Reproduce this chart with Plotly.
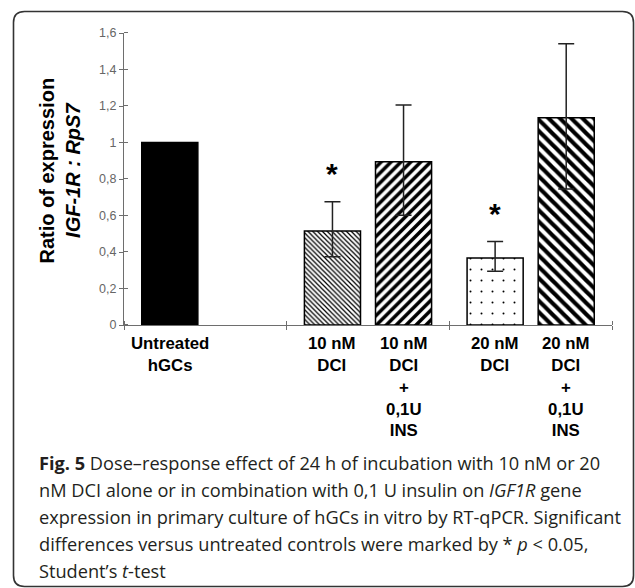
import plotly.graph_objects as go

# ---------------- data ----------------
labels = ["Untreated<br>hGCs", "10 nM<br>DCI", "10 nM<br>DCI<br>+<br>0,1U<br>INS",
          "20 nM<br>DCI", "20 nM<br>DCI<br>+<br>0,1U<br>INS"]
values = [1.0, 0.515, 0.894, 0.367, 1.135]
err_up = [0.0, 0.160, 0.312, 0.090, 0.406]
err_down = [0.0, 0.141, 0.292, 0.072, 0.390]
significant = [False, True, False, True, False]
groups = [0, 1, 1, 2, 2]
slots = [0, 0, 1, 0, 1]
ytick_vals = [0, 0.2, 0.4, 0.6, 0.8, 1.0, 1.2, 1.4, 1.6]
ytick_text = ["0", "0,2", "0,4", "0,6", "0,8", "1", "1,2", "1,4", "1,6"]
xtick_vals = [-0.5, 0.5, 1.5, 2.5]
caption_lines = [
    "<b>Fig. 5</b> Dose–response effect of 24 h of incubation with 10 nM or 20",
    "nM DCI alone or in combination with 0,1 U insulin on <i>IGF1R</i> gene",
    "expression in primary culture of hGCs in vitro by RT-qPCR. Significant",
    "differences versus untreated controls were marked by * <i>p</i> &lt; 0.05,",
    "Student’s <i>t</i>-test",
]

# ---------------- styles ----------------
shapes_pat = ["", "\\", "/", ".", "\\"]
pat_size = [8, 3.4, 7, 11, 8]
pat_sol = [0.3, 0.36, 0.5, 0.025, 0.52]
fill = ["black", "white", "white", "white", "white"]

W, H = 635, 588
L, R, T, B = 124, 23, 33, 263
PW, PH = W - L - R, H - T - B


def pxx(x):
    return (x - L) / PW


def pxy(y):
    return (H - B - y) / PH


BARGAP = 0.126
GROUPGAP = 0.211
slot_w = (1 - BARGAP) / 2
bar_w = slot_w * (1 - GROUPGAP)


def xcenter(i):
    return groups[i] + (slots[i] - 0.5) * slot_w


fig = go.Figure()
for i in range(len(values)):
    has_err = err_up[i] > 0
    fig.add_trace(go.Bar(
        x=[xcenter(i)],
        y=[values[i]],
        width=bar_w,
        marker=dict(
            color=fill[i],
            line=dict(color="black", width=1.5),
            pattern=dict(shape=shapes_pat[i], size=pat_size[i],
                         solidity=pat_sol[i], fgcolor="#000", fgopacity=1,
                         bgcolor=fill[i]),
        ),
        error_y=dict(type="data", symmetric=False, visible=has_err,
                     array=[err_up[i]], arrayminus=[err_down[i]],
                     color="#222", thickness=1.5, width=8),
        showlegend=False,
        hoverinfo="skip",
    ))

axis_col = "#6e6e6e"
eps = 1e-4
fig.update_layout(
    width=W, height=H,
    margin=dict(l=L, r=R, t=T, b=B, pad=0),
    paper_bgcolor="white", plot_bgcolor="white",
    barmode="overlay",
    font=dict(family="Liberation Sans, Arial, sans-serif", color="black"),
    xaxis=dict(range=[-0.5, 2.5], tickvals=xtick_vals, ticktext=[""] * len(xtick_vals),
               ticks="outside", ticklen=4, tickwidth=1.2, tickcolor=axis_col,
               minor=dict(tickmode="array", tickvals=[v + eps for v in xtick_vals],
                          ticks="inside", ticklen=4, tickwidth=1.2, tickcolor=axis_col),
               showline=True, linecolor=axis_col, linewidth=1.2,
               showgrid=False, zeroline=False, fixedrange=True),
    yaxis=dict(range=[0, 1.6], tickvals=ytick_vals, ticktext=ytick_text,
               ticks="outside", ticklen=4, tickwidth=1.2, tickcolor=axis_col,
               minor=dict(tickmode="array", tickvals=[v + eps for v in ytick_vals],
                          ticks="inside", ticklen=4, tickwidth=1.2, tickcolor=axis_col),
               showline=True, linecolor=axis_col, linewidth=1.2,
               showgrid=False, zeroline=False,
               tickfont=dict(size=12.5, color="#666", family="Liberation Sans, Arial"),
               fixedrange=True),
)

annotations = []
for i, lab in enumerate(labels):
    annotations.append(dict(
        x=xcenter(i), y=0, xref="x", yref="y", xanchor="center", yanchor="top",
        yshift=-7, text="<b>" + lab + "</b>", showarrow=False,
        font=dict(size=16.8, color="black", family="Liberation Sans, Arial"),
    ))
for i, sig in enumerate(significant):
    if sig:
        annotations.append(dict(
            x=xcenter(i), y=values[i] + err_up[i], xref="x", yref="y",
            xanchor="center", yanchor="middle", yshift=28,
            text="<b>*</b>", showarrow=False,
            font=dict(size=30, color="black", family="Liberation Sans, Arial"),
        ))
annotations.append(dict(
    x=pxx(59.5), y=pxy(171), xref="paper", yref="paper",
    xanchor="center", yanchor="middle", textangle=-90,
    text="<b>Ratio of expression</b><br><b><i>IGF-1R : RpS7</i></b>",
    showarrow=False,
    font=dict(size=20, color="black", family="Liberation Sans, Arial"),
))
for k, line in enumerate(caption_lines):
    annotations.append(dict(
        x=pxx(37), y=pxy(463 + 27 * k), xref="paper", yref="paper",
        xanchor="left", yanchor="middle", align="left",
        text=line, showarrow=False,
        font=dict(size=18.2, color="#231f20", family="Open Sans, Noto Sans, sans-serif"),
    ))
fig.update_layout(annotations=annotations)

x0, y0, x1, y1, r = 13.5, 11.5, 633.5, 586.5, 11
path = (f"M {pxx(x0 + r)},{pxy(y0)} L {pxx(x1 - r)},{pxy(y0)} "
        f"Q {pxx(x1)},{pxy(y0)} {pxx(x1)},{pxy(y0 + r)} "
        f"L {pxx(x1)},{pxy(y1 - r)} Q {pxx(x1)},{pxy(y1)} {pxx(x1 - r)},{pxy(y1)} "
        f"L {pxx(x0 + r)},{pxy(y1)} Q {pxx(x0)},{pxy(y1)} {pxx(x0)},{pxy(y1 - r)} "
        f"L {pxx(x0)},{pxy(y0 + r)} Q {pxx(x0)},{pxy(y0)} {pxx(x0 + r)},{pxy(y0)} Z")
fig.add_shape(type="path", path=path, xref="paper", yref="paper",
              line=dict(color="#333", width=1.6), layer="above")

fig.write_html("out.html")
